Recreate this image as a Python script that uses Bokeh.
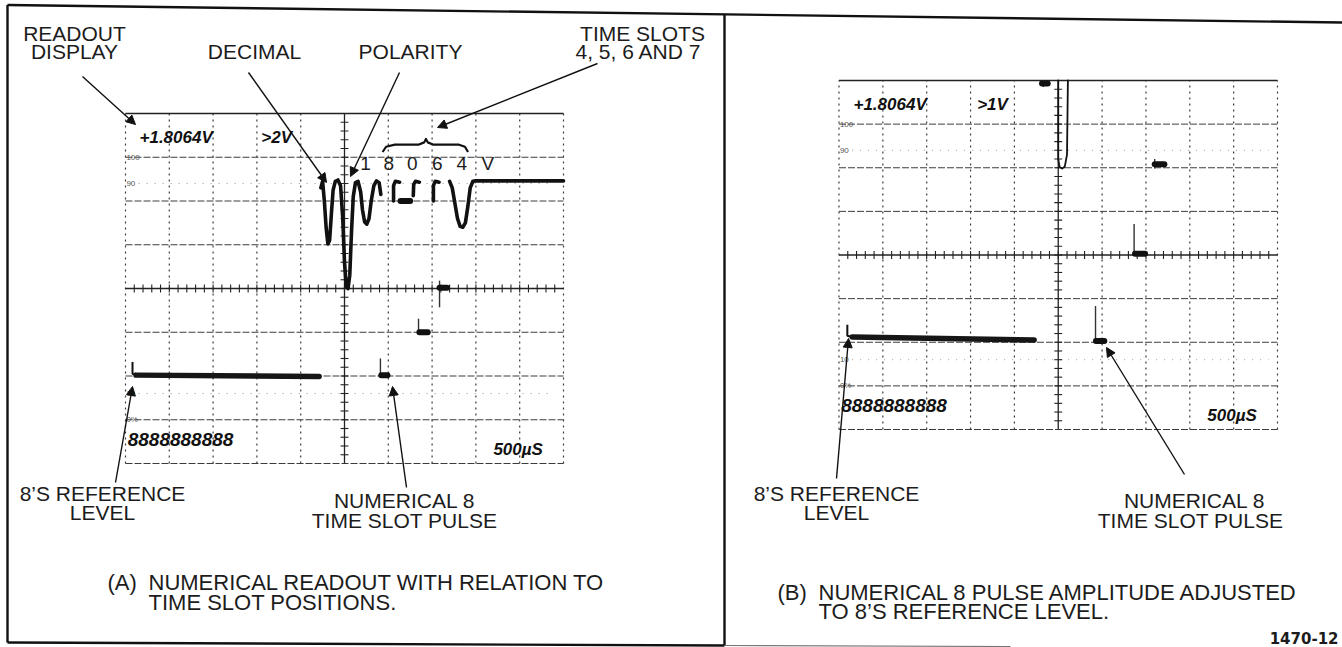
import numpy as np
from bokeh.plotting import figure
from bokeh.models import Range1d, Arrow, NormalHead
from bokeh.core.properties import value
from bokeh.embed import file_html
from bokeh.resources import INLINE

# ---------------------------------------------------------------------------
# DATA  (oscilloscope traces in screen divisions: x 0..10, y 0..8)
# ---------------------------------------------------------------------------
# Panel A: numerical readout with relation to time slot positions
A_PULSE_X = [4.46, 4.50, 4.54, 4.58, 4.62, 4.66, 4.70, 4.74, 4.79, 4.85, 4.91,
             4.96, 5.00, 5.04, 5.08, 5.12, 5.16, 5.20, 5.25, 5.31,
             5.37, 5.41, 5.46, 5.51, 5.56, 5.61, 5.67, 5.73, 5.79, 5.83]
A_PULSE_Y = [6.30, 6.45, 6.00, 5.40, 5.02, 5.10, 5.70, 6.25, 6.45, 6.48, 6.35,
             5.60, 4.60, 4.05, 4.00, 4.30, 5.30, 6.10, 6.42, 6.45,
             6.20, 5.80, 5.52, 5.47, 5.60, 6.00, 6.35, 6.46, 6.42, 6.15]
A_HOOK_X = [[6.12, 6.12, 6.16, 6.26], [6.57, 6.58, 6.62, 6.71], [7.03, 7.03, 7.07, 7.16]]
A_HOOK_Y = [[6.00, 6.35, 6.45, 6.43], [6.12, 6.38, 6.45, 6.43], [6.00, 6.35, 6.45, 6.43]]
A_TAIL_X = [7.40, 7.46, 7.52, 7.58, 7.64, 7.70, 7.76, 7.82, 7.87, 7.93, 8.00, 10.0]
A_TAIL_Y = [6.45, 6.30, 5.95, 5.60, 5.42, 5.40, 5.50, 5.90, 6.30, 6.45, 6.46, 6.46]
A_BASE_X = [0.16, 0.16, 0.24, 4.42]
A_BASE_Y = [2.32, 2.05, 2.02, 1.99]
A_SPIKE_X = [5.82, 6.69, 7.17]
A_SPIKE_TOP = [2.40, 3.31, 4.18]
A_SPIKE_BOT = [2.00, 3.00, 3.57]
A_BLOB_X0 = [5.84, 6.71, 7.17, 6.28]
A_BLOB_X1 = [5.98, 6.90, 7.34, 6.50]
A_BLOB_Y = [2.02, 3.00, 4.02, 6.00]

# Panel B: numerical 8 pulse amplitude adjusted to 8's reference level
B_MAIN_X = [5.00, 5.00, 5.03, 5.09, 5.15, 5.20, 5.22]
B_MAIN_Y = [8.00, 6.20, 6.02, 5.98, 6.03, 6.30, 8.00]
B_BASE_X = [0.19, 0.19, 0.30, 4.45]
B_BASE_Y = [2.40, 2.15, 2.12, 2.05]
B_SPIKE_X = [5.85, 6.73, 7.20, 4.66]
B_SPIKE_TOP = [2.83, 4.71, 6.20, 8.00]
B_SPIKE_BOT = [2.03, 4.02, 5.98, 7.85]
B_BLOB_X0 = [5.86, 6.75, 7.20, 4.63]
B_BLOB_X1 = [6.05, 6.98, 7.42, 4.76]
B_BLOB_Y = [2.03, 4.03, 6.08, 7.93]

# On-screen readout texts
READOUT_A = ["+1.8064V", ">2V"]
READOUT_B = ["+1.8064V", ">1V"]
READOUT_X = [0.32, 3.1]
READOUT_B_X = [0.33, 3.15]
READOUT_Y = 7.45
DIGITS_TEXT = "8888888888"
TIMEBASE_TEXT = "500µS"
GRAT_LABELS = ["100", "90", "10", "0%"]
GRAT_LABEL_Y = [7.0, 6.4, 1.6, 1.0]

# Time-slot digits above the pulse train (panel A)
SLOT_DIGITS = ["1", "8", "0", "6", "4", "V"]
SLOT_X = [5.48, 6.01, 6.55, 7.12, 7.68, 8.27]
SLOT_Y = 6.85
BRACE_X = [5.87, 5.95, 6.15, 6.70, 6.82, 6.86, 6.90, 7.02, 7.60, 7.75, 7.82]
BRACE_Y = [7.12, 7.24, 7.29, 7.29, 7.34, 7.42, 7.34, 7.29, 7.29, 7.24, 7.12]

# Callout labels (page pixels)
LABEL_TEXT = ["READOUT", "DISPLAY", "DECIMAL", "POLARITY", "TIME SLOTS", "4, 5, 6 AND 7",
              "8’S REFERENCE", "LEVEL", "NUMERICAL 8", "TIME SLOT PULSE",
              "8’S REFERENCE", "LEVEL", "NUMERICAL 8", "TIME SLOT PULSE"]
LABEL_X = [74, 74, 254, 410, 642, 638,
           102, 102, 404, 404,
           836, 836, 1194, 1190]
LABEL_Y = [33, 51, 51, 51, 33, 51,
           493, 512, 500, 520,
           493, 512, 500, 520]
ARROWS = [  # x_start, y_start, x_end, y_end
    (82, 76, 135, 124),
    (248, 72, 326, 182),
    (399, 72, 350, 176),
    (597, 63, 437, 127),
    (115, 482, 132, 386),
    (406, 487, 392, 386),
    (836, 478, 848, 338),
    (1184, 474, 1106, 347),
]
CAPTION_TAG = ["(A)", "(B)"]
CAPTION_TAG_X = [107, 777]
CAPTION_TEXT = ["NUMERICAL READOUT WITH RELATION TO", "TIME SLOT POSITIONS.",
                "NUMERICAL 8 PULSE AMPLITUDE ADJUSTED", "TO 8’S REFERENCE LEVEL."]
CAPTION_X = [148, 148, 818, 818]
CAPTION_Y = [582, 602, 592, 611]
FIG_ID = "1470-12"

# ---------------------------------------------------------------------------
# LAYOUT
# ---------------------------------------------------------------------------
W, H = 1342, 647
OX, OY = 0, 0
SCREEN_A = (125, 113, 563, 463)
SCREEN_B = (838.5, 80, 1277, 429)
NX, NY = 10, 8

p = figure(width=W, height=H, x_range=Range1d(OX, OX + W), y_range=Range1d(OY + H, OY),
           x_axis_type=None, y_axis_type=None, output_backend="svg",
           toolbar_location=None, min_border=0)
p.grid.visible = False
p.outline_line_color = None
p.background_fill_color = "white"
p.border_fill_color = "white"

xr, yr = {}, {}
for name, (l, t, r, b) in (("A", SCREEN_A), ("B", SCREEN_B)):
    dx = (r - l) / NX
    dy = (b - t) / NY
    xr[name + "x"] = Range1d((OX - l) / dx, (OX + W - l) / dx)
    yr[name + "y"] = Range1d((b - (OY + H)) / dy, (b - OY) / dy)
p.extra_x_ranges = xr
p.extra_y_ranges = yr

FONT = value("Liberation Sans")
INK = "#1c1c1c"
LABEL_SIZE = "21px"
CAPTION_SIZE = "22px"


def screen(name, pulses, baseline, spikes, blobs, readout, readout_x, extra_lines):
    kw = dict(x_range_name=name + "x", y_range_name=name + "y")
    g = "#3c3c3c"
    # dotted 10% / 90% lines
    p.segment(x0=[0.3, 0.3], y0=[1.6, 6.4], x1=[9.8, 9.8], y1=[1.6, 6.4],
              line_color="#9a9a9a", line_width=1, line_dash="1 7", **kw)
    # horizontal graticule lines
    hy = [1, 2, 3, 5, 6, 7, 0]
    p.segment(x0=[0] * len(hy), y0=hy, x1=[10] * len(hy), y1=hy,
              line_color=g, line_width=1, line_dash="7 2", **kw)
    # vertical graticule lines
    vx = [0, 1, 2, 3, 4, 6, 7, 8, 9, 10]
    p.segment(x0=vx, y0=[0] * len(vx), x1=vx, y1=[8] * len(vx),
              line_color=g, line_width=1.2, line_dash="2 4", **kw)
    # top edge and centre axes
    p.segment(x0=[0, 0, 5], y0=[8, 4, 0], x1=[10, 10, 5], y1=[8, 4, 8],
              line_color="#222222", line_width=1.3, **kw)
    ty = np.arange(0.2, 8.0, 0.2)
    p.segment(x0=5 - 0.09, y0=ty, x1=5 + 0.09, y1=ty, line_color="#222222", line_width=1.1, **kw)
    tx = np.arange(0.2, 10.0, 0.2)
    p.segment(x0=tx, y0=4 - 0.09, x1=tx, y1=4 + 0.09, line_color="#222222", line_width=1.1, **kw)
    # graticule labels
    p.text(x=[0.02] * 4, y=GRAT_LABEL_Y, text=GRAT_LABELS, text_font=FONT,
           text_font_size="8px", text_color="#555555", text_baseline="middle", **kw)
    # traces
    for xs, ys, lw in pulses:
        p.line(xs, ys, line_color="#111111", line_width=lw, line_join="round", line_cap="round", **kw)
    for xs, ys in extra_lines:
        p.multi_line(xs, ys, line_color="#111111", line_width=3.6, line_join="round", line_cap="round", **kw)
    bx, by = baseline
    p.line(bx[:3], by[:3], line_color="#111111", line_width=2, **kw)
    p.line(bx[2:], by[2:], line_color="#161616", line_width=5.5, line_cap="round", **kw)
    sx, st, sb = spikes
    p.segment(x0=sx, y0=st, x1=sx, y1=sb, line_color="#333333", line_width=1.4, **kw)
    x0, x1, yb = blobs
    p.segment(x0=x0, y0=yb, x1=x1, y1=yb, line_color="#111111", line_width=6, line_cap="round", **kw)
    # readouts
    p.text(x=readout_x, y=[READOUT_Y] * 2, text=readout, text_font=FONT, text_font_style="bold italic",
           text_font_size="17px", text_color="#111111", text_baseline="middle", **kw)
    p.text(x=[0.05], y=[0.55], text=[DIGITS_TEXT], text_font=FONT, text_font_style="bold italic",
           text_font_size="19px", text_color="#111111", text_baseline="middle", **kw)
    p.text(x=[8.4], y=[0.32], text=[TIMEBASE_TEXT], text_font=FONT, text_font_style="bold italic",
           text_font_size="17px", text_color="#111111", text_baseline="middle", **kw)


screen("A",
       [(A_PULSE_X, A_PULSE_Y, 3.6), (A_TAIL_X, A_TAIL_Y, 3.6)],
       (A_BASE_X, A_BASE_Y), (A_SPIKE_X, A_SPIKE_TOP, A_SPIKE_BOT),
       (A_BLOB_X0, A_BLOB_X1, A_BLOB_Y), READOUT_A, READOUT_X,
       [(A_HOOK_X, A_HOOK_Y)])
screen("B",
       [(B_MAIN_X, B_MAIN_Y, 1.8)],
       (B_BASE_X, B_BASE_Y), (B_SPIKE_X, B_SPIKE_TOP, B_SPIKE_BOT),
       (B_BLOB_X0, B_BLOB_X1, B_BLOB_Y), READOUT_B, READOUT_B_X, [])

# time-slot digits and brace (panel A)
p.text(x=SLOT_X, y=[SLOT_Y] * len(SLOT_X), text=SLOT_DIGITS, text_font=FONT, text_font_size="19px",
       text_color=INK, text_align="center", text_baseline="middle", x_range_name="Ax", y_range_name="Ay")
p.line(BRACE_X, BRACE_Y, line_color="#111111", line_width=2.2, line_join="round",
       x_range_name="Ax", y_range_name="Ay")

# frame lines (the scanned page is slightly rotated)
p.segment(x0=[7, 7, 724, 7], y0=[4.5, 4.5, 13.5, 642], x1=[1342, 7, 724, 724], y1=[22, 642, 645, 645],
          line_color="#111111", line_width=2.4)
p.segment(x0=[724], y0=[645], x1=[1010], y1=[646], line_color="#777777", line_width=1.2)

# callouts
p.text(x=LABEL_X, y=LABEL_Y, text=LABEL_TEXT, text_font=FONT, text_font_size=LABEL_SIZE,
       text_color=INK, text_align="center", text_baseline="middle")
for xs, ys, xe, ye in ARROWS:
    p.add_layout(Arrow(end=NormalHead(size=9, line_color="#111111", fill_color="#111111", line_width=1),
                       x_start=xs, y_start=ys, x_end=xe, y_end=ye, line_color="#111111", line_width=1.4))

# captions
p.text(x=CAPTION_TAG_X, y=[CAPTION_Y[0], CAPTION_Y[2]], text=CAPTION_TAG, text_font=FONT,
       text_font_size=CAPTION_SIZE, text_color=INK, text_baseline="middle")
p.text(x=CAPTION_X, y=CAPTION_Y, text=CAPTION_TEXT, text_font=FONT, text_font_size=CAPTION_SIZE,
       text_color=INK, text_baseline="middle")
p.text(x=[1338], y=[637], text=[FIG_ID], text_font=value("DejaVu Sans"), text_font_size="15px",
       text_font_style="bold", text_color=INK, text_align="right", text_baseline="middle")

open("out.html", "w").write(file_html(p, INLINE))
